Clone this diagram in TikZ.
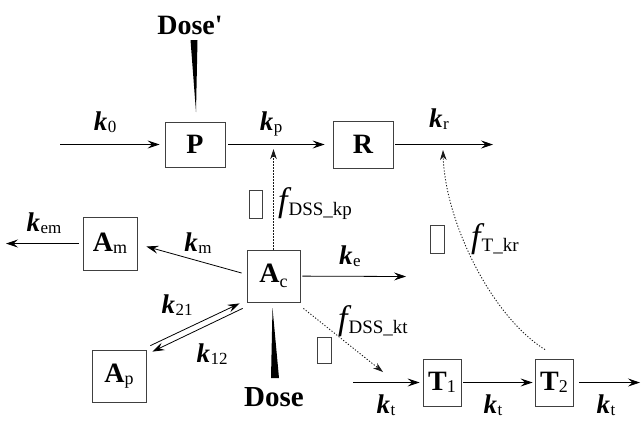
\documentclass[tikz,border=0pt]{standalone}
\usepackage{fontspec}
\setmainfont{Liberation Serif}
\usetikzlibrary{arrows.meta}
\newcommand{\kk}[1]{{\fontsize{27}{27}\selectfont\bfseries\itshape k}\kern0.5pt\raisebox{-2pt}{\fontsize{17}{17}\selectfont #1}}
\newcommand{\ff}[1]{{\fontsize{34}{34}\selectfont\itshape f}\kern1pt\raisebox{-4pt}{\fontsize{19}{19}\selectfont #1}}
\newcommand{\bx}[2]{{\fontsize{28}{28}\selectfont\bfseries #1}\raisebox{-2pt}{\fontsize{18}{18}\selectfont\mdseries #2}}
\tikzset{
  cbox/.style={draw=black!75, line width=0.8pt, inner sep=0pt, font=\fontsize{28}{28}\selectfont\bfseries},
  gbox/.style={draw=black!75, line width=0.7pt, inner sep=0pt},
  arr/.style={line width=0.8pt, -{Stealth[length=12pt,width=8pt,inset=4.5pt]}},
  dotarr/.style={line width=0.9pt, black!90, dash pattern=on 1.2pt off 1.8pt, -{Stealth[length=10pt,width=6.5pt,inset=3pt]}},
  lbl/.style={inner sep=0pt}
}
\begin{document}
\begin{tikzpicture}[x=1pt,y=-1pt]
\useasboundingbox (0,0) rectangle (644,424);
% boxes
\node[cbox, minimum width=60pt, minimum height=45pt] (P) at (195,144.5) {P};
\node[cbox, minimum width=60pt, minimum height=47pt] (R) at (363,144.5) {R};
\node[cbox, minimum width=53pt, minimum height=52pt] (Ac) at (273.5,276) {\bx{A}{\raisebox{-3pt}{c}}};
\node[cbox, minimum width=54pt, minimum height=53pt] (Am) at (110,243.5) {\bx{A}{m}};
\node[cbox, minimum width=54pt, minimum height=52pt] (Ap) at (119,376) {\bx{A}{p}};
\node[cbox, minimum width=38pt, minimum height=47pt] (T1) at (442,382.5) {\bx{T}{1}};
\node[cbox, minimum width=38pt, minimum height=47pt] (T2) at (554,382.5) {\bx{T}{2}};
% empty glyph boxes
\node[gbox, minimum width=13pt, minimum height=28pt] (g1) at (255.5,204) {};
\node[gbox, minimum width=14pt, minimum height=26pt] (g2) at (324,350) {};
\node[gbox, minimum width=14pt, minimum height=28pt] (g3) at (437,239) {};
% dose labels
\node[lbl, font=\fontsize{28}{28}\selectfont\bfseries] (Dp) at (190,25) {Dose\textquotesingle};
\node[lbl, font=\fontsize{29}{29}\selectfont\bfseries] (D) at (274,397) {Dose};
% wedges
\fill (190.5,40) -- (197.5,40) -- (196,112) -- cycle;
\fill (272.5,308) -- (271,378) -- (279,378) -- cycle;
% free coordinates
\coordinate (k0s) at (60,144.5);
\coordinate (krE) at (493,144.5);
\coordinate (kpT) at (273.5,149);
\coordinate (krT) at (443,150);
\coordinate (kemE) at (6,243.5);
\coordinate (keE) at (406,276.5);
\coordinate (ktT) at (383,372);
\coordinate (ktS) at (353,382.5);
\coordinate (tE) at (640,382.5);
% arrows
\draw[arr, shorten >=5pt] (k0s) -- (P);
\draw[arr, shorten <=3pt, shorten >=8pt] (P) -- (R);
\draw[arr, shorten <=2pt] (R) -- (krE);
\draw[arr, shorten <=4pt] (Am) -- (kemE);
\draw[arr] ([shift={(-5,-3)}]Ac.west) -- ([shift={(9,3)}]Am.east);
\draw[arr, shorten <=2pt] (Ac) -- (keE);
\draw[arr] ([shift={(4,-4)}]Ap.north east) -- ([shift={(-7,1)}]Ac.south west);
\draw[arr] ([shift={(-4,6)}]Ac.south west) -- ([shift={(6,2)}]Ap.north east);
\draw[arr, shorten >=3pt] (ktS) -- (T1);
\draw[arr, shorten <=2pt, shorten >=2pt] (T1) -- (T2);
\draw[arr, shorten <=6pt] (T2) -- (tE);
% dotted influence arrows
\draw[dotarr] (Ac.north) -- (kpT);
\draw[dotarr] ([shift={(3,6)}]Ac.south east) -- (ktT);
\draw[dotarr] ([shift={(-9,-9)}]T2.north) .. controls (490,315) and (445,220) .. (krT);
% rate labels
\node[lbl] (l0) at (105,122) {\kk{0}};
\node[lbl] (lp) at (271,124) {\kk{p}};
\node[lbl] (lr) at (439,119) {\kk{r}};
\node[lbl] (lem) at (44,223) {\kk{em}};
\node[lbl] (lm) at (198,243) {\kk{m}};
\node[lbl] (l21) at (177,305) {\kk{21}};
\node[lbl] (l12) at (212,354) {\kk{12}};
\node[lbl] (le) at (350,256) {\kk{e}};
\node[lbl] (lt1) at (386,405) {\kk{t}};
\node[lbl] (lt2) at (493,405) {\kk{t}};
\node[lbl] (lt3) at (606,405) {\kk{t}};
\node[lbl, anchor=west] (fkp) at (278,204) {\ff{DSS\_kp}};
\node[lbl, anchor=west] (fkt) at (338,321) {\ff{DSS\_kt}};
\node[lbl, anchor=west] (fkr) at (471,239) {\ff{T\_kr}};
\end{tikzpicture}
\end{document}
